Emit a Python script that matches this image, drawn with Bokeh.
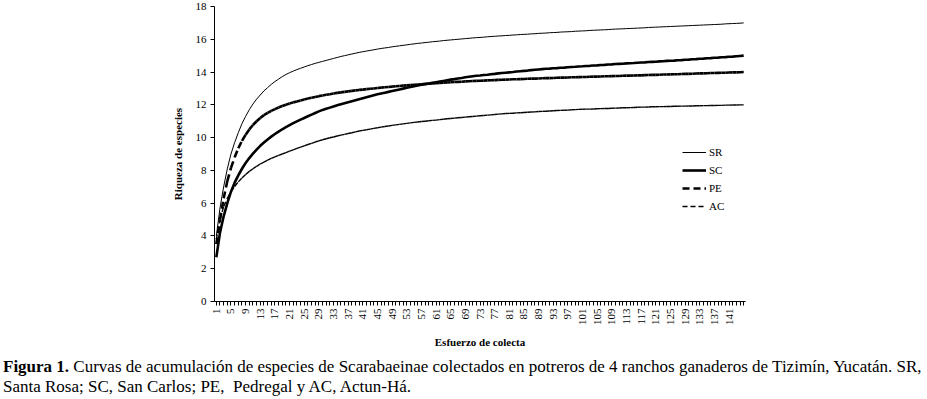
from math import pi
from bokeh.plotting import figure
from bokeh.layouts import column
from bokeh.models import (FixedTicker, Legend, LegendItem, Range1d, Div,
                          ColumnDataSource)
from bokeh.embed import file_html
from bokeh.resources import INLINE

# ---------------- data ----------------
esfuerzo = list(range(1, 146))
x_tick_labels = [str(i) for i in range(1, 142, 4)]
y_ticks = [0, 2, 4, 6, 8, 10, 12, 14, 16, 18]

SR = [4.0, 5.7, 7.0, 8.1, 9.0, 9.7, 10.3, 10.85, 11.3, 11.7,
      12.05, 12.35, 12.6, 12.85, 13.05, 13.25, 13.42, 13.57, 13.72, 13.85,
      13.96, 14.06, 14.15, 14.23, 14.31, 14.39, 14.46, 14.53, 14.59, 14.65,
      14.71, 14.77, 14.83, 14.89, 14.95, 15.0, 15.05, 15.1, 15.15, 15.2,
      15.24, 15.28, 15.32, 15.36, 15.4, 15.44, 15.47, 15.5, 15.54, 15.57,
      15.6, 15.63, 15.66, 15.69, 15.72, 15.75, 15.77, 15.8, 15.82, 15.85,
      15.87, 15.89, 15.92, 15.94, 15.96, 15.98, 16.0, 16.02, 16.04, 16.06,
      16.08, 16.1, 16.11, 16.13, 16.15, 16.17, 16.18, 16.2, 16.21, 16.23,
      16.24, 16.26, 16.27, 16.29, 16.3, 16.31, 16.33, 16.34, 16.36, 16.37,
      16.38, 16.4, 16.41, 16.42, 16.44, 16.45, 16.46, 16.47, 16.49, 16.5,
      16.51, 16.52, 16.54, 16.55, 16.56, 16.57, 16.58, 16.59, 16.61, 16.62,
      16.63, 16.64, 16.65, 16.66, 16.67, 16.68, 16.69, 16.7, 16.72, 16.73,
      16.74, 16.75, 16.76, 16.77, 16.78, 16.79, 16.8, 16.81, 16.82, 16.83,
      16.84, 16.85, 16.86, 16.87, 16.88, 16.89, 16.9, 16.91, 16.92, 16.94,
      16.95, 16.96, 16.97, 16.98, 17.0]

SC = [2.7, 4.2, 5.2, 6.0, 6.7, 7.25, 7.7, 8.1, 8.45, 8.75,
      9.02, 9.27, 9.5, 9.7, 9.89, 10.06, 10.22, 10.37, 10.51, 10.64,
      10.76, 10.88, 10.99, 11.1, 11.2, 11.3, 11.4, 11.5, 11.6, 11.69,
      11.76, 11.83, 11.9, 11.97, 12.04, 12.1, 12.16, 12.22, 12.28, 12.34,
      12.4, 12.46, 12.52, 12.58, 12.64, 12.69, 12.74, 12.79, 12.84, 12.89,
      12.94, 12.99, 13.04, 13.09, 13.14, 13.18, 13.22, 13.26, 13.3, 13.34,
      13.38, 13.42, 13.46, 13.5, 13.54, 13.57, 13.61, 13.64, 13.68, 13.71,
      13.74, 13.77, 13.79, 13.82, 13.84, 13.87, 13.89, 13.92, 13.94, 13.96,
      13.98, 14.0, 14.03, 14.05, 14.07, 14.09, 14.12, 14.14, 14.16, 14.18,
      14.2, 14.21, 14.23, 14.24, 14.26, 14.27, 14.29, 14.31, 14.32, 14.34,
      14.35, 14.37, 14.38, 14.4, 14.41, 14.43, 14.44, 14.46, 14.47, 14.49,
      14.5, 14.51, 14.53, 14.54, 14.55, 14.57, 14.58, 14.59, 14.61, 14.62,
      14.63, 14.65, 14.66, 14.68, 14.69, 14.7, 14.72, 14.73, 14.75, 14.76,
      14.78, 14.79, 14.81, 14.82, 14.84, 14.85, 14.87, 14.88, 14.9, 14.91,
      14.93, 14.94, 14.96, 14.98, 15.0]

PE = [3.5, 5.0, 6.3, 7.35, 8.15, 8.8, 9.35, 9.8, 10.18, 10.5,
      10.77, 11.0, 11.2, 11.37, 11.51, 11.63, 11.74, 11.84, 11.93, 12.01,
      12.08, 12.15, 12.21, 12.27, 12.33, 12.38, 12.43, 12.48, 12.53, 12.57,
      12.61, 12.65, 12.69, 12.73, 12.76, 12.79, 12.82, 12.85, 12.88, 12.91,
      12.93, 12.96, 12.98, 13.0, 13.03, 13.05, 13.07, 13.09, 13.11, 13.13,
      13.15, 13.17, 13.19, 13.21, 13.23, 13.24, 13.26, 13.28, 13.29, 13.31,
      13.32, 13.34, 13.35, 13.36, 13.38, 13.39, 13.4, 13.41, 13.43, 13.44,
      13.45, 13.46, 13.47, 13.48, 13.49, 13.5, 13.51, 13.52, 13.53, 13.54,
      13.55, 13.56, 13.56, 13.57, 13.58, 13.59, 13.6, 13.6, 13.61, 13.62,
      13.63, 13.63, 13.64, 13.65, 13.66, 13.66, 13.67, 13.68, 13.68, 13.69,
      13.7, 13.7, 13.71, 13.72, 13.72, 13.73, 13.74, 13.74, 13.75, 13.76,
      13.76, 13.77, 13.78, 13.78, 13.79, 13.8, 13.8, 13.81, 13.82, 13.83,
      13.83, 13.84, 13.85, 13.85, 13.86, 13.87, 13.87, 13.88, 13.89, 13.89,
      13.9, 13.91, 13.92, 13.92, 13.93, 13.94, 13.94, 13.95, 13.96, 13.96,
      13.97, 13.98, 13.98, 13.99, 14.0]

AC = [3.8, 5.0, 5.8, 6.3, 6.7, 7.02, 7.3, 7.54, 7.75, 7.94,
      8.1, 8.25, 8.39, 8.51, 8.62, 8.73, 8.83, 8.92, 9.0, 9.08,
      9.17, 9.25, 9.34, 9.42, 9.5, 9.58, 9.65, 9.73, 9.8, 9.87,
      9.93, 9.99, 10.04, 10.1, 10.15, 10.2, 10.25, 10.3, 10.35, 10.4,
      10.44, 10.48, 10.52, 10.56, 10.6, 10.64, 10.68, 10.71, 10.75, 10.78,
      10.81, 10.84, 10.87, 10.9, 10.93, 10.95, 10.98, 11.0, 11.03, 11.05,
      11.07, 11.1, 11.12, 11.15, 11.17, 11.19, 11.21, 11.23, 11.25, 11.27,
      11.29, 11.31, 11.33, 11.35, 11.37, 11.39, 11.41, 11.43, 11.45, 11.47,
      11.48, 11.49, 11.51, 11.52, 11.53, 11.55, 11.56, 11.57, 11.59, 11.6,
      11.61, 11.62, 11.64, 11.65, 11.66, 11.67, 11.68, 11.7, 11.71, 11.72,
      11.73, 11.74, 11.74, 11.75, 11.76, 11.77, 11.78, 11.78, 11.79, 11.8,
      11.81, 11.82, 11.82, 11.83, 11.84, 11.85, 11.86, 11.86, 11.87, 11.88,
      11.88, 11.89, 11.89, 11.9, 11.9, 11.91, 11.91, 11.92, 11.92, 11.93,
      11.93, 11.94, 11.94, 11.95, 11.95, 11.96, 11.96, 11.97, 11.97, 11.98,
      11.98, 11.99, 11.99, 12.0, 12.0]

caption_bold = "Figura 1."
caption_line1 = ("Curvas de acumulación de especies de Scarabaeinae colectados en "
                 "potreros de 4 ranchos ganaderos de Tizimín, Yucatán. SR,")
caption_line2 = "Santa Rosa; SC, San Carlos; PE,&nbsp; Pedregal y AC, Actun-Há."

FONT = "Liberation Serif"

# ---------------- figure ----------------
p = figure(width=927, height=357, output_backend="svg", toolbar_location=None,
           x_range=Range1d(0.5, 145.5), y_range=Range1d(0, 18),
           min_border_left=214, min_border_right=182,
           min_border_top=6, min_border_bottom=56)
p.outline_line_color = None
p.xgrid.grid_line_color = None
p.ygrid.grid_line_color = None
p.background_fill_color = "white"

# solid series
r_sr = p.line(esfuerzo, SR, line_color="black", line_width=1)
r_sc = p.line(esfuerzo, SC, line_color="black", line_width=2.6)

# dashed series drawn segment by segment (dash restarts on every segment)
def seg_source(vals):
    return ColumnDataSource(dict(x0=esfuerzo[:-1], x1=esfuerzo[1:],
                                 y0=vals[:-1], y1=vals[1:]))

r_pe = p.segment("x0", "y0", "x1", "y1", source=seg_source(PE),
                 line_color="black", line_width=2.6, line_dash="7 4")
r_ac = p.segment("x0", "y0", "x1", "y1", source=seg_source(AC),
                 line_color="black", line_width=1.4, line_dash="5 3")

# axes
xa = p.xaxis[0]
xa.ticker = FixedTicker(ticks=esfuerzo)
xa.major_label_overrides = {i: (str(i) if str(i) in x_tick_labels else "")
                            for i in esfuerzo}
xa.major_label_orientation = pi / 2
xa.minor_tick_line_color = None
xa.major_tick_in = 0
xa.major_tick_out = 4
xa.major_label_standoff = 3
xa.axis_label = "Esfuerzo de colecta"
xa.axis_label_standoff = 8

ya = p.yaxis[0]
ya.ticker = FixedTicker(ticks=y_ticks)
ya.minor_tick_line_color = None
ya.major_tick_in = 0
ya.major_tick_out = 4
ya.major_label_standoff = 4
ya.axis_label = "Riqueza de especies"
ya.axis_label_standoff = 9

for ax in (xa, ya):
    ax.axis_line_color = "black"
    ax.major_tick_line_color = "black"
    ax.major_label_text_font = FONT
    ax.major_label_text_font_size = "11px"
    ax.major_label_text_color = "black"
    ax.axis_label_text_font = FONT
    ax.axis_label_text_font_size = "11px"
    ax.axis_label_text_font_style = "bold"
    ax.axis_label_text_color = "black"

# legend
legend = Legend(items=[LegendItem(label="SR", renderers=[r_sr]),
                       LegendItem(label="SC", renderers=[r_sc]),
                       LegendItem(label="PE", renderers=[r_pe]),
                       LegendItem(label="AC", renderers=[r_ac])],
                location=(468, 86))
legend.label_text_font = FONT
legend.label_text_font_size = "11px"
legend.label_text_color = "black"
legend.glyph_width = 24
legend.glyph_height = 18
legend.label_height = 18
legend.label_standoff = 3
legend.spacing = 0
legend.padding = 0
legend.margin = 0
legend.border_line_color = None
legend.background_fill_alpha = 0
p.add_layout(legend)

# caption below the chart
caption = Div(
    text=(f"<b>{caption_bold}</b> {caption_line1}<br>{caption_line2}"),
    width=924, height=42, margin=(0, 0, 0, 3),
    styles={"font-family": FONT, "font-size": "17px", "line-height": "20px",
            "color": "black", "white-space": "nowrap"})

layout = column(p, caption, spacing=0)

open("out.html", "w").write(file_html(layout, INLINE))
